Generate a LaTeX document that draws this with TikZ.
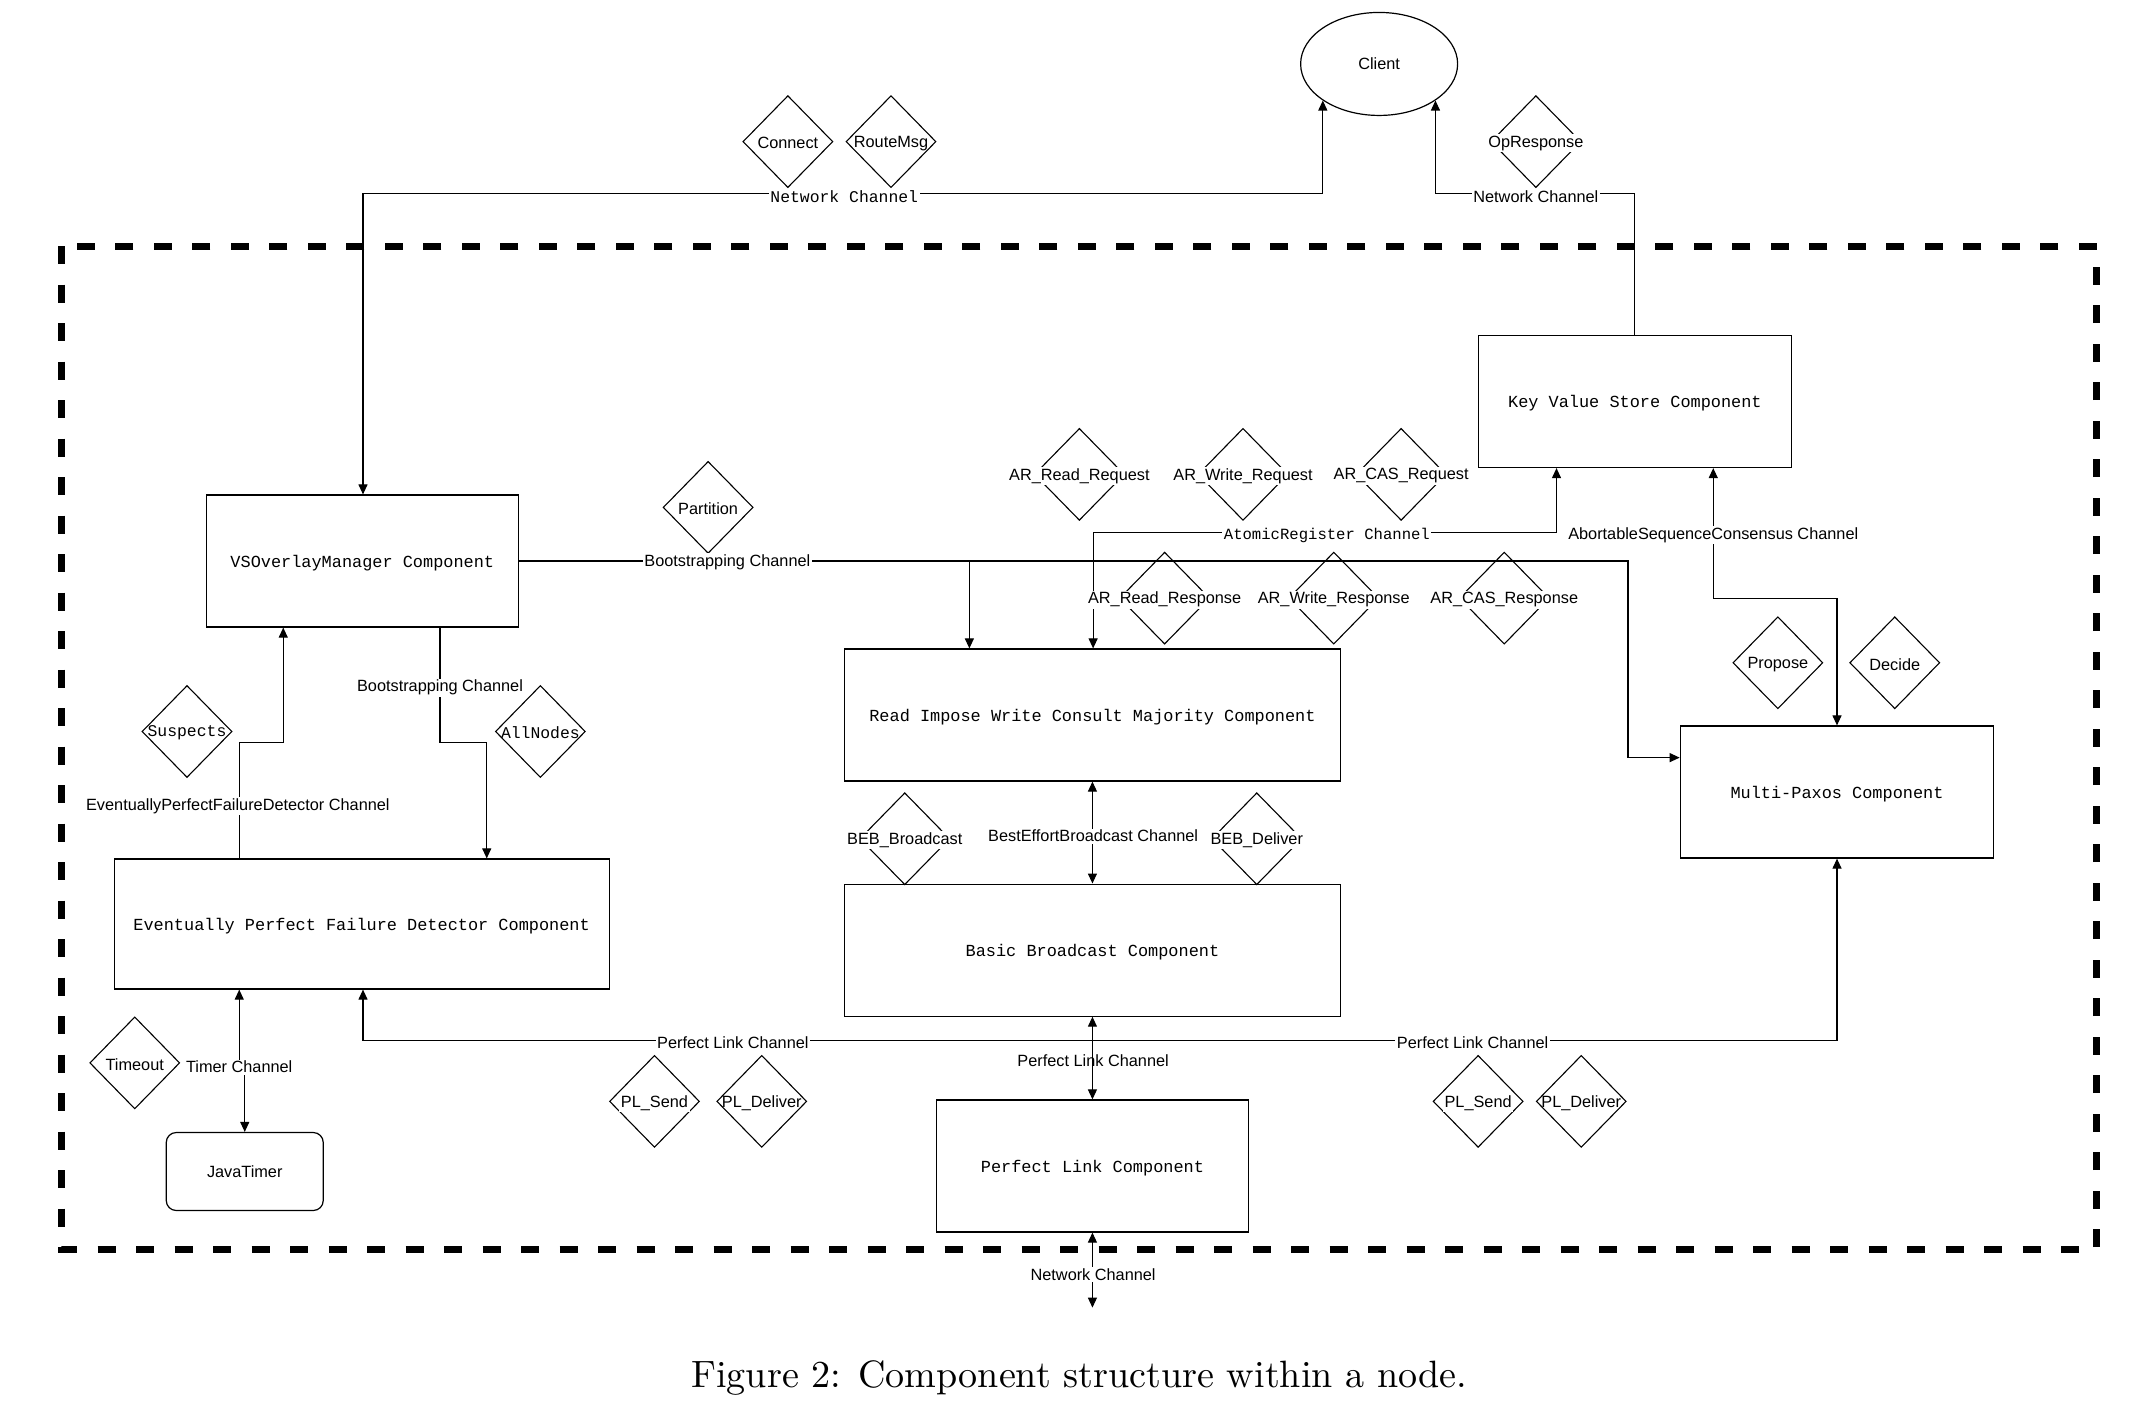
\documentclass[tikz,border=0pt]{standalone}
\usepackage{fontspec}
\usetikzlibrary{shapes.geometric,arrows.meta}
\newfontfamily\lsans{Liberation Sans}
\newfontfamily\lmono{Liberation Mono}
\begin{document}
\begin{tikzpicture}[x=1.375pt,y=-1.375pt,
  >={Triangle[length=10pt,width=9pt]},
  conn/.style={line width=1.1pt},
  comp/.style={draw,line width=1.2pt,inner sep=0pt,fill=white,text depth=0pt,font=\lmono\fontsize{16.9}{20}\selectfont},
  msg/.style={diamond,draw,line width=1.1pt,inner sep=0pt,minimum width=90pt,minimum height=92pt},
  lbl/.style={fill=white,inner sep=1.5pt,yshift=-1.5pt,font=\lsans\fontsize{16.3}{19}\selectfont},
  mlbl/.style={fill=white,inner sep=1.5pt,yshift=-1.5pt,font=\lmono\fontsize{16.4}{19}\selectfont},
  border/.style={line width=7pt,dash pattern=on 18pt off 20.5pt}
]
\useasboundingbox (0,0) rectangle (1568,1034);
% outer dashed boundary
\draw[border] (45,179) rectangle (1525,909);

% components
\node[ellipse,draw,line width=1.2pt,inner sep=0pt,minimum width=157pt,minimum height=103pt,font=\lsans\fontsize{16.3}{19}\selectfont] (client) at (1003,46.5) {Client};
\node[comp,minimum width=313.5pt,minimum height=132pt] (kvs) at (1189,292) {Key Value Store Component};
\node[comp,minimum width=312pt,minimum height=132pt] (vso) at (263.5,408) {VSOverlayManager Component};
\node[comp,minimum width=496.4pt,minimum height=132pt] (riw) at (794.5,520) {Read Impose Write Consult Majority Component};
\node[comp,minimum width=313.5pt,minimum height=132pt] (mp) at (1336,576) {Multi-Paxos Component};
\node[comp,minimum width=496.4pt,minimum height=132pt] (bb) at (794.5,691) {Basic Broadcast Component};
\node[comp,minimum width=495pt,minimum height=130pt] (epfd) at (263,672) {Eventually Perfect Failure Detector Component};
\node[comp,minimum width=312pt,minimum height=132pt] (pl) at (794.5,848) {Perfect Link Component};
\node[draw,line width=1.2pt,rounded corners=10pt,inner sep=0pt,minimum width=157pt,minimum height=78pt,font=\lsans\fontsize{16.3}{19}\selectfont] (jt) at (178,852) {JavaTimer};
\coordinate (netend) at (794.5,951);

% connectors
\draw[conn,<->] (264,0 |- vso.north) -- (264,141) -- (client.213.75 |- 0,141) -- (client.213.75);
\draw[conn,->] (kvs.north) -- (kvs.north |- 0,141) -- (client.-33.75 |- 0,141) -- (client.-33.75);
\draw[conn,->] (vso.east) -- (1184,408) -- (1184,551) -- (mp.west |- 0,551);
\draw[conn,->] (705,408) -- (705,0 |- riw.north);
\draw[conn,<->] (795,0 |- riw.north) -- (795,387) -- (1132,387) -- (1132,0 |- kvs.south);
\draw[conn,<->] (1246,0 |- kvs.south) -- (1246,435) -- (1336,435) -- (mp.north);
\draw[conn,<->] (riw.south) -- (bb.north);
\draw[conn,<->] (bb.south) -- (pl.north);
\draw[conn,<->] (264,0 |- epfd.south) -- (264,757) -- (1336,757) -- (mp.south);
\draw[conn,<->] (pl.south) -- (netend);
\draw[conn,->] (174,0 |- epfd.north) -- (174,540) -- (206,540) -- (206,0 |- vso.south);
\draw[conn,->] (320,0 |- vso.south) -- (320,540) -- (354,540) -- (354,0 |- epfd.north);
\draw[conn,<->] (174,0 |- epfd.south) -- (174,775) -- (178,775) -- (jt.north);

% message diamonds
\node[msg] (dconnect) at (573,103) {};
\node[msg] (droute) at (648,103) {};
\node[msg] (dopresp) at (1117,103) {};
\node[msg] (dpartition) at (515,369) {};
\node[msg] (darrq) at (785,345) {};
\node[msg] (dawrq) at (904,345) {};
\node[msg] (dacrq) at (1019,345) {};
\node[msg] (darrs) at (847,435) {};
\node[msg] (dawrs) at (970,435) {};
\node[msg] (dacrs) at (1094,435) {};
\node[msg] (dpropose) at (1293,482) {};
\node[msg] (ddecide) at (1378,482) {};
\node[msg] (dbebb) at (658,610) {};
\node[msg] (dbebd) at (914,610) {};
\node[msg] (dsuspects) at (136,532) {};
\node[msg] (dallnodes) at (393,532) {};
\node[msg] (dtimeout) at (98,773) {};
\node[msg] (dpls1) at (476,801) {};
\node[msg] (dpld1) at (554,801) {};
\node[msg] (dpls2) at (1075,801) {};
\node[msg] (dpld2) at (1150,801) {};

\node[lbl] (tconnect) at (dconnect) {Connect};
\node[lbl,fill=none] (troute) at (droute) {RouteMsg};
\node[lbl] (topresp) at (dopresp) {OpResponse};
\node[lbl] (tpartition) at (dpartition) {Partition};
\node[lbl] (tarrq) at (darrq) {AR\_Read\_Request};
\node[lbl] (tawrq) at (dawrq) {AR\_Write\_Request};
\node[lbl] (tacrq) at (dacrq) {AR\_CAS\_Request};
\node[lbl] (tarrs) at (darrs) {AR\_Read\_Response};
\node[lbl] (tawrs) at (dawrs) {AR\_Write\_Response};
\node[lbl] (tacrs) at (dacrs) {AR\_CAS\_Response};
\node[lbl] (tpropose) at (dpropose) {Propose};
\node[lbl] (tdecide) at (ddecide) {Decide};
\node[lbl] (tbebb) at (dbebb) {BEB\_Broadcast};
\node[lbl] (tbebd) at (dbebd) {BEB\_Deliver};
\node[mlbl,fill=none] (tsuspects) at (dsuspects) {Suspects};
\node[mlbl,fill=none] (tallnodes) at (dallnodes) {AllNodes};
\node[lbl] (ttimeout) at (dtimeout) {Timeout};
\node[lbl] (tpls1) at (dpls1) {PL\_Send};
\node[lbl,fill=none] (tpld1) at (dpld1) {PL\_Deliver};
\node[lbl] (tpls2) at (dpls2) {PL\_Send};
\node[lbl,fill=none] (tpld2) at (dpld2) {PL\_Deliver};

% channel labels
\node[mlbl] (lnet1) at (614,142) {Network Channel};
\node[lbl] (lnet2) at (1117,142) {Network Channel};
\node[lbl] (lboot1) at (529,408) {Bootstrapping Channel};
\node[mlbl,font=\lmono\fontsize{15.6}{19}\selectfont] (lar) at (965,388) {AtomicRegister Channel};
\node[lbl] (lasc) at (1246,388) {AbortableSequenceConsensus Channel};
\node[lbl] (lboot2) at (320,499) {Bootstrapping Channel};
\node[lbl] (lepfd) at (173,585) {EventuallyPerfectFailureDetector Channel};
\node[lbl] (lbeb) at (795,607) {BestEffortBroadcast Channel};
\node[lbl] (lpl1) at (533,757) {Perfect Link Channel};
\node[lbl] (lpl2) at (1071,757) {Perfect Link Channel};
\node[lbl,fill=none] (lpl3) at (795,770) {Perfect Link Channel};
\node[lbl] (ltimer) at (174,775) {Timer Channel};
\node[lbl] (lnet3) at (795,926) {Network Channel};

% caption
\node[inner sep=0pt] (caption) at (785,1002) {\scalebox{3.81}{\fontsize{10}{12}\selectfont Figure 2: Component structure within a node.}};
\end{tikzpicture}
\end{document}
